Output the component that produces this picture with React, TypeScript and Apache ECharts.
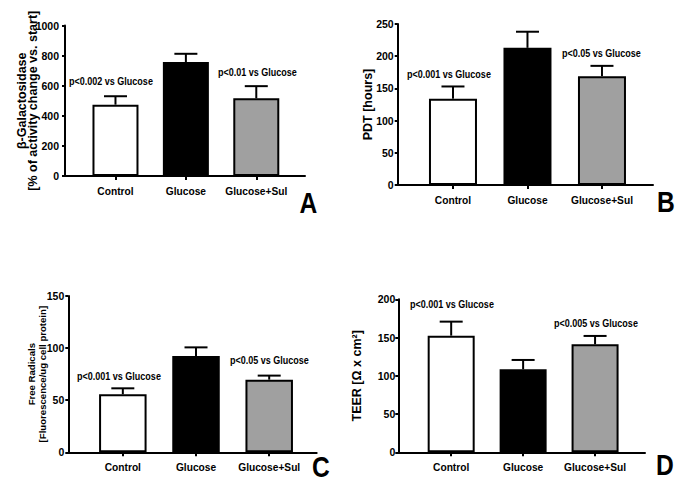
import React, { useEffect, useRef } from "react";
import * as echarts from "echarts";

// ---- data ----
const categories = ["Control", "Glucose", "Glucose+Sul"];
const betaGalMeans = [474, 757, 516];
const betaGalUpper = [530, 812, 597];
const pdtMeans = [134, 213, 169];
const pdtUpper = [153, 238, 185];
const radicalMeans = [55.7, 92.4, 69.7];
const radicalUpper = [61.4, 100.7, 73.6];
const teerMeans = [152.5, 108.5, 141.2];
const teerUpper = [170.8, 120.7, 152.1];
const yMax = [1000, 250, 150, 200];
const yInterval = [200, 50, 50, 50];
const yTitles = [
  "β-Galactosidase\n[% of activity change vs. start]",
  "PDT [hours]",
  "Free Radicals\n[Fluorescence/ug cell protein]",
  "TEER [Ω x cm²]",
];
const panelLetters = ["A", "B", "C", "D"];
const annotations = [
  ["p<0.002 vs Glucose", "p<0.01 vs Glucose"],
  ["p<0.001 vs Glucose", "p<0.05 vs Glucose"],
  ["p<0.001 vs Glucose", "p<0.05 vs Glucose"],
  ["p<0.001 vs Glucose", "p<0.005 vs Glucose"],
];

// ---- layout / style ----
const barColors = ["#ffffff", "#000000", "#a0a0a0"];
const SANS = "'Liberation Sans', Arial, sans-serif";

const panels = [
  { grid: { left: 65, top: 25.5, width: 240, height: 150.5 }, xMin: -0.717, xMax: 2.692, barWidth: 46, labelMargin: 6,
    nameGap: 26, nameSize: 12.5, nameLH: 11.5,
    ann: [[69, 81], [218, 72]], letter: [308.5, 202.5] },
  { grid: { left: 397.7, top: 24, width: 255.3, height: 161 }, xMin: -0.742, xMax: 2.685, barWidth: 48, labelMargin: 4,
    nameGap: 23.5, nameSize: 12.5, nameLH: 11.5,
    ann: [[407, 74], [562, 53]], letter: [666, 202] },
  { grid: { left: 68.3, top: 296, width: 248.4, height: 156.3 }, xMin: -0.745, xMax: 2.649, barWidth: 47.5, labelMargin: 4,
    nameGap: 20, nameSize: 9.6, nameLH: 11,
    ann: [[77, 376], [230, 360]], letter: [321, 466.5] },
  { grid: { left: 398.3, top: 299.3, width: 246.7, height: 153 }, xMin: -0.735, xMax: 2.694, barWidth: 47, labelMargin: 3,
    nameGap: 35.5, nameSize: 12.5, nameLH: 11.5,
    ann: [[410, 304], [554, 323]], letter: [665, 465] },
];

const means = [betaGalMeans, pdtMeans, radicalMeans, teerMeans];
const uppers = [betaGalUpper, pdtUpper, radicalUpper, teerUpper];

function buildOption() {
  const grids: any[] = [];
  const xAxes: any[] = [];
  const yAxes: any[] = [];
  const series: any[] = [];
  const graphics: any[] = [];
  panels.forEach((p, i) => {
    grids.push({ ...p.grid, containLabel: false });
    xAxes.push({
      gridIndex: i,
      type: "value",
      min: p.xMin,
      max: p.xMax,
      splitLine: { show: false },
      axisLine: { show: true, onZero: false, lineStyle: { color: "#000", width: 2 } },
      axisTick: { show: true, customValues: [0, 1, 2], length: 4, lineStyle: { color: "#000", width: 2 } },
      axisLabel: {
        customValues: [0, 1, 2],
        formatter: (v: number) => categories[Math.round(v)] ?? "",
        color: "#000",
        fontFamily: SANS,
        fontWeight: "bold",
        fontSize: 10.2,
        margin: 10.5,
      },
    });
    yAxes.push({
      gridIndex: i,
      type: "value",
      min: 0,
      max: yMax[i],
      interval: yInterval[i],
      splitLine: { show: false },
      axisLine: { show: true, onZero: false, lineStyle: { color: "#000", width: 2 } },
      axisTick: { show: true, length: 3, lineStyle: { color: "#000", width: 2 } },
      axisLabel: {
        color: "#000",
        fontFamily: SANS,
        fontWeight: "bold",
        fontSize: 10.5,
        margin: p.labelMargin,
        formatter: (v: number) => String(v),
      },
      name: yTitles[i],
      nameLocation: "middle",
      nameRotate: 90,
      nameGap: p.nameGap,
      nameMoveOverlap: false,
      nameTextStyle: {
        color: "#000",
        fontFamily: SANS,
        fontWeight: "bold",
        fontSize: p.nameSize,
        lineHeight: p.nameLH,
        align: "center",
      },
    });
    series.push({
      type: "bar",
      xAxisIndex: i,
      yAxisIndex: i,
      barWidth: p.barWidth,
      itemStyle: { borderColor: "#000", borderWidth: 2 },
      data: means[i].map((v, j) => ({ value: [j, v], itemStyle: { color: barColors[j] } })),
      z: 2,
    });
    series.push({
      type: "custom",
      xAxisIndex: i,
      yAxisIndex: i,
      z: 3,
      encode: { x: 0, y: [1, 2] },
      data: means[i].map((v, j) => [j, v, uppers[i][j]]),
      renderItem: (params: any, api: any) => {
        const x = api.value(0);
        const p0 = api.coord([x, api.value(1)]);
        const p1 = api.coord([x, api.value(2)]);
        const hw = 11.5;
        const st = { stroke: "#000", lineWidth: 2 };
        return {
          type: "group",
          children: [
            { type: "line", shape: { x1: p0[0], y1: p0[1], x2: p1[0], y2: p1[1] }, style: st },
            { type: "line", shape: { x1: p1[0] - hw, y1: p1[1], x2: p1[0] + hw, y2: p1[1] }, style: st },
          ],
        };
      },
    });
    annotations[i].forEach((t, k) => {
      graphics.push({
        type: "text",
        x: p.ann[k][0],
        y: p.ann[k][1],
        scaleX: 0.82,
        style: {
          text: t,
          fill: "#000",
          font: `bold 11px ${SANS}`,
          align: "left",
          verticalAlign: "middle",
        },
      });
    });
    graphics.push({
      type: "text",
      x: p.letter[0],
      y: p.letter[1],
      scaleX: 0.82,
      style: {
        text: panelLetters[i],
        fill: "#000",
        font: `bold 30px ${SANS}`,
        align: "center",
        verticalAlign: "middle",
      },
    });
  });
  return {
    animation: false,
    backgroundColor: "#ffffff",
    grid: grids,
    xAxis: xAxes,
    yAxis: yAxes,
    series,
    graphic: graphics,
  };
}

export default function App() {
  const ref = useRef<HTMLDivElement>(null);
  useEffect(() => {
    if (!ref.current) return;
    const chart = echarts.init(ref.current, undefined, { renderer: "svg" });
    chart.setOption(buildOption() as any);
    return () => chart.dispose();
  }, []);
  return (
    <div
      ref={ref}
      style={{ position: "absolute", left: 0, top: 0, width: 685, height: 490, background: "#fff" }}
    />
  );
}
